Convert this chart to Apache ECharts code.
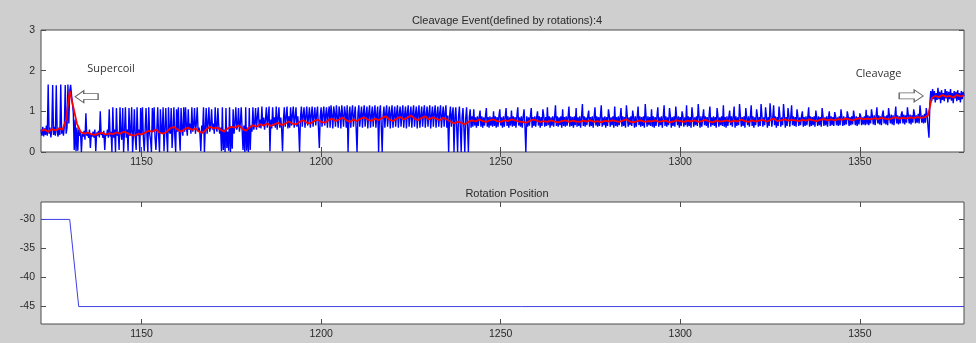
<!DOCTYPE html>
<html>
<head>
<meta charset="utf-8">
<script src="https://cdn.jsdelivr.net/npm/echarts@6/dist/echarts.min.js"></script>
<style>
html,body{margin:0;padding:0;background:#cfcfcf;}
#c{width:976px;height:343px;}
</style>
</head>
<body>
<div id="c"></div>
<script>
// ---- data ----
var titleTop = 'Cleavage Event(defined by rotations):4';
var titleBottom = 'Rotation Position';
var xTicks = [1150, 1200, 1250, 1300, 1350];
var topYTicks = [0, 1, 2, 3];
var bottomYTicks = [-45, -40, -35, -30];

// raw signal in hundredths, sampled every 0.25 from 1122 (one row = 10 units)
var signalStart = 1122, signalStep = 0.25;
var signalHundredths = [
55,40,62,38,58,42,65,40,166,45,60,36,55,165,42,62,40,164,50,38,60,42,166,45,58,40,62,165,45,60,166,70,150,165,140,120,95,5,80,2,
60,3,55,40,50,0,45,38,52,30,95,40,48,35,55,10,45,38,50,35,55,2,48,40,52,36,100,42,48,35,52,5,45,40,55,35,105,38,50,0,
110,35,55,0,108,40,50,5,110,45,30,108,0,50,110,35,55,2,108,40,50,110,0,45,105,35,5,110,40,55,0,108,45,110,35,2,55,108,40,0,
110,45,30,0,108,50,110,35,5,55,110,40,0,105,50,45,110,2,55,108,40,0,110,50,45,108,10,55,110,40,0,105,50,110,45,3,108,55,40,110,
50,110,60,40,105,55,70,45,110,50,65,108,45,70,110,50,60,45,2,65,50,110,0,60,108,45,70,110,50,65,105,55,70,45,110,60,50,108,65,45,
60,2,110,5,55,0,108,10,50,3,110,0,60,8,105,45,70,110,55,65,108,50,70,110,55,5,65,0,110,3,60,0,108,5,65,50,110,55,70,108,
55,85,110,60,80,58,112,65,85,55,80,110,60,85,112,2,80,58,110,65,85,60,112,55,82,110,60,85,58,2,80,110,62,85,112,58,88,60,110,65,
90,112,60,85,110,62,88,58,0,85,112,62,90,110,60,88,112,65,85,110,60,90,112,62,88,110,65,92,112,60,10,88,110,62,92,112,65,90,110,60,
95,112,60,115,90,58,112,95,62,115,88,60,112,95,58,115,90,62,112,95,60,115,0,92,112,60,95,115,62,90,112,58,0,95,115,62,90,112,60,95,
115,62,92,112,58,95,115,60,90,112,62,95,115,60,92,112,0,95,115,62,0,90,112,60,95,115,62,92,112,58,95,115,60,90,112,62,95,115,60,92,
112,62,95,115,60,92,112,58,95,115,62,90,112,60,95,115,62,92,112,58,95,115,60,90,112,62,95,115,60,92,112,62,95,115,58,90,112,62,95,115,
60,92,112,62,95,115,60,90,112,62,95,115,60,90,0,88,112,62,92,110,0,85,110,60,0,88,112,62,0,85,108,60,0,82,110,62,0,85,105,60,
88,62,105,65,85,60,88,64,86,102,62,88,60,85,65,88,108,62,86,60,88,65,85,62,100,64,88,60,86,62,88,105,65,85,60,88,62,86,108,64,
88,60,85,65,102,62,88,64,86,60,88,110,65,85,62,88,60,86,105,64,0,88,62,85,65,88,108,60,86,64,88,62,85,100,65,88,60,86,64,105,
88,62,86,64,110,66,88,60,85,65,88,62,86,115,64,88,62,85,66,88,60,105,64,86,62,88,65,85,112,62,88,64,86,60,88,66,108,62,85,64,
88,60,86,118,64,88,62,85,66,88,102,62,86,64,88,60,85,110,65,88,62,86,64,88,115,62,85,66,88,60,86,64,105,88,62,85,66,88,60,112,
64,86,62,88,66,85,108,62,88,64,86,60,115,88,62,85,66,88,64,102,86,60,88,62,85,112,66,88,62,86,64,88,60,118,85,62,88,66,86,64,
105,62,88,60,86,64,88,110,62,85,66,88,60,86,115,64,88,62,85,66,108,88,60,86,64,88,62,112,85,66,88,60,86,64,100,88,62,85,66,115,
62,88,64,86,60,110,88,62,85,66,88,64,118,86,60,88,62,85,105,66,88,64,86,60,88,112,62,85,66,88,64,86,60,108,88,62,85,66,88,64,
115,62,86,60,88,64,85,102,66,88,62,86,112,60,88,64,85,66,118,88,62,86,64,88,60,108,85,66,88,62,86,115,64,88,60,85,66,105,88,62,
86,64,118,88,62,85,66,110,88,60,86,64,120,88,62,85,115,66,88,60,86,64,112,88,62,85,66,118,88,60,86,64,108,88,62,85,115,66,88,64,
86,62,105,88,64,85,66,88,100,62,86,64,88,66,85,110,62,88,64,86,66,88,62,102,85,64,88,66,86,62,108,88,64,85,66,88,62,86,100,64,
88,66,86,64,98,88,66,85,64,88,66,105,86,64,88,66,85,68,100,88,64,86,66,88,68,102,85,66,88,64,86,68,95,88,66,85,68,88,66,104,
68,90,66,88,70,105,88,68,90,66,88,110,70,90,68,88,66,92,102,70,88,68,90,66,108,88,70,92,68,90,66,88,112,70,90,68,88,70,92,100,
70,92,68,90,72,110,90,70,92,68,90,72,105,92,70,90,72,94,70,115,92,72,90,70,94,72,108,90,60,35,120,150,
125,155,130,150,122,145,128,158,130,148,120,152,128,145,125,155,132,150,122,148,130,155,126,145,120,150,132,148,125,152,128,145,122,150,130,148,138
];

// smoothed signal, sampled every 1 from 1122
var smoothStart = 1122, smoothStep = 1;
var smooth = [
0.52,0.55,0.5,0.56,0.53,0.58,0.55,0.8,
1.5,1.1,0.7,0.5,0.45,0.48,0.44,0.42,0.45,0.47,0.43,0.46,
0.44,0.48,0.45,0.5,0.47,0.42,0.4,0.45,0.43,0.48,
0.52,0.5,0.55,0.48,0.45,0.5,0.58,0.62,0.55,0.5,
0.56,0.6,0.54,0.58,0.5,0.47,0.55,0.62,0.58,0.6,
0.55,0.5,0.58,0.62,0.6,0.65,0.58,0.52,0.6,0.66,
0.62,0.68,0.65,0.7,0.64,0.68,0.72,0.66,0.7,0.75,
0.7,0.68,0.74,0.78,0.72,0.7,0.76,0.8,0.74,0.72,
0.78,0.82,0.76,0.8,0.85,0.78,0.74,0.8,0.76,0.82,
0.85,0.8,0.76,0.82,0.78,0.84,0.88,0.8,0.76,0.82,
0.86,0.8,0.84,0.9,0.82,0.78,0.84,0.88,0.8,0.85,
0.82,0.78,0.84,0.8,0.75,0.7,0.74,0.72,0.68,0.74,
0.78,0.75,0.8,0.76,0.74,0.78,0.8,0.76,0.74,0.78,
0.76,0.8,0.78,0.75,0.74,0.72,0.76,0.8,0.77,0.74,
0.76,0.74,0.78,0.75,0.73,0.76,0.78,0.74,0.77,0.75,
0.74,0.77,0.75,0.78,0.74,0.76,0.73,0.77,0.75,0.78,
0.76,0.74,0.77,0.8,0.75,0.73,0.76,0.78,0.74,0.76,
0.75,0.78,0.74,0.76,0.77,0.73,0.75,0.78,0.76,0.74,
0.77,0.75,0.78,0.74,0.76,0.79,0.75,0.73,0.77,0.75,
0.76,0.78,0.74,0.77,0.75,0.8,0.76,0.74,0.78,0.75,
0.77,0.79,0.75,0.78,0.82,0.76,0.78,0.8,0.77,0.79,
0.78,0.76,0.79,0.77,0.8,0.78,0.76,0.79,0.81,0.78,
0.8,0.78,0.81,0.79,0.82,0.8,0.78,0.81,0.83,0.8,
0.82,0.8,0.83,0.81,0.84,0.82,0.8,0.83,0.85,0.82,
0.84,0.82,0.85,0.83,0.86,0.84,0.85,0.9,
1.32,1.38,1.35,1.4,1.36,1.38,1.34,1.4,1.37,1.39
];

// rotation position
var rotX = [1122, 1130, 1132.5, 1379];
var rotY = [-30, -30, -45, -45];

// annotations
var supercoilText = 'Supercoil', supercoilAt = [1141.5, 2.04];
var supercoilArrowAt = [1134.7, 1.36];
var cleavageText = 'Cleavage', cleavageAt = [1355.2, 1.92];
var cleavageArrowAt = [1364.3, 1.38];

var xMin = 1122, xMax = 1379;
var topYMin = 0, topYMax = 3;
var botYMin = -48, botYMax = -27;

// ---- build ----
function pairs(start, step, arr, scale) {
  var out = [];
  for (var i = 0; i < arr.length; i++) out.push([start + i * step, arr[i] / scale]);
  return out;
}
var rotData = rotX.map(function (x, i) { return [x, rotY[i]]; });

var axisCol = '#4d4d4d';
var font = 'Liberation Sans, Arial, sans-serif';
var labelStyle = { color: '#2a2a2a', fontSize: 10.5, fontFamily: font, formatter: function (v) { return String(v); } };

function xAx(grid, pos, labels) {
  return {
    type: 'value', gridIndex: grid, position: pos, min: xMin, max: xMax,
    axisLine: { show: false },
    splitLine: { show: false },
    axisTick: { show: true, inside: true, length: 5, customValues: xTicks, lineStyle: { color: axisCol } },
    axisLabel: labels ? Object.assign({ show: true, margin: 5, customValues: xTicks }, labelStyle) : { show: false }
  };
}
function yAx(grid, pos, labels, mn, mx, ticks) {
  return {
    type: 'value', gridIndex: grid, position: pos, min: mn, max: mx,
    axisLine: { show: false },
    splitLine: { show: false },
    axisTick: { show: true, inside: true, length: 5, customValues: ticks, lineStyle: { color: axisCol } },
    axisLabel: labels ? Object.assign({ show: true, margin: 6, customValues: ticks }, labelStyle) : { show: false }
  };
}

var leftArrow = 'path://M0,6 L9,0 L9,3 L24,3 L24,9 L9,9 L9,12 Z';
var rightArrow = 'path://M24,6 L15,0 L15,3 L0,3 L0,9 L15,9 L15,12 Z';
var annLabel = { show: true, position: 'inside', color: '#333', fontSize: 11, fontFamily: 'Open Sans, Liberation Sans, sans-serif' };

var option = {
  backgroundColor: '#cfcfcf',
  animation: false,
  title: [
    { text: titleTop, left: 502, top: 10, textAlign: 'center',
      textStyle: { fontSize: 11, fontWeight: 'normal', color: '#2a2a2a', fontFamily: font } },
    { text: titleBottom, left: 502, top: 183, textAlign: 'center',
      textStyle: { fontSize: 11, fontWeight: 'normal', color: '#2a2a2a', fontFamily: font } }
  ],
  grid: [
    { left: 41, top: 30, width: 923, height: 122, show: true, backgroundColor: '#ffffff', borderColor: axisCol, borderWidth: 1 },
    { left: 41, top: 202, width: 923, height: 122, show: true, backgroundColor: '#ffffff', borderColor: axisCol, borderWidth: 1 }
  ],
  xAxis: [xAx(0, 'bottom', true), xAx(0, 'top', false), xAx(1, 'bottom', true), xAx(1, 'top', false)],
  yAxis: [
    yAx(0, 'left', true, topYMin, topYMax, topYTicks),
    yAx(0, 'right', false, topYMin, topYMax, topYTicks),
    yAx(1, 'left', true, botYMin, botYMax, bottomYTicks),
    yAx(1, 'right', false, botYMin, botYMax, bottomYTicks)
  ],
  series: [
    { type: 'line', xAxisIndex: 0, yAxisIndex: 0, data: pairs(signalStart, signalStep, signalHundredths, 100),
      showSymbol: false, symbol: 'none', sampling: null, clip: true,
      lineStyle: { color: '#0000ff', width: 1.4 }, z: 2 },
    { type: 'line', xAxisIndex: 0, yAxisIndex: 0, data: pairs(smoothStart, smoothStep, smooth, 1),
      showSymbol: false, symbol: 'none', clip: true,
      lineStyle: { color: '#ff0000', width: 1.8 }, z: 3,
      markPoint: {
        silent: true,
        data: [
          { coord: supercoilAt, symbol: 'rect', symbolSize: 1, itemStyle: { color: 'rgba(0,0,0,0)' },
            label: Object.assign({}, annLabel, { formatter: supercoilText }) },
          { coord: cleavageAt, symbol: 'rect', symbolSize: 1, itemStyle: { color: 'rgba(0,0,0,0)' },
            label: Object.assign({}, annLabel, { formatter: cleavageText }) },
          { coord: supercoilArrowAt, symbol: leftArrow, symbolSize: [23, 12], symbolKeepAspect: false,
            itemStyle: { color: '#ffffff', borderColor: '#666', borderWidth: 1 }, label: { show: false } },
          { coord: cleavageArrowAt, symbol: rightArrow, symbolSize: [24, 12], symbolKeepAspect: false,
            itemStyle: { color: '#ffffff', borderColor: '#666', borderWidth: 1 }, label: { show: false } }
        ]
      } },
    { type: 'line', xAxisIndex: 2, yAxisIndex: 2, data: rotData,
      showSymbol: false, symbol: 'none',
      lineStyle: { color: '#3f3fe6', width: 1 } }
  ]
};

var chart = echarts.init(document.getElementById('c'), null, { renderer: 'canvas' });
chart.setOption(option);
</script>
</body>
</html>
